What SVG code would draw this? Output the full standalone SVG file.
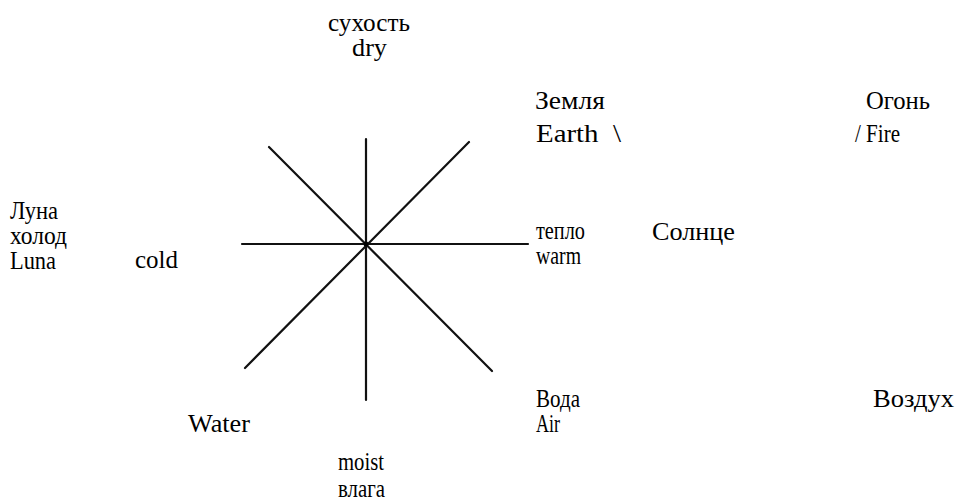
<svg xmlns="http://www.w3.org/2000/svg" width="955" height="502" viewBox="0 0 955 502">
<style>
text{font-family:'Liberation Serif','Times New Roman',serif;font-size:25px;fill:#000}
.s20{font-size:20px}
.ln{stroke:#111;stroke-width:2.2;fill:none;stroke-linecap:round}
</style>
<rect width="955" height="502" fill="#fff"/>
<g id="connectors">
<line class="ln" x1="366" y1="139" x2="366" y2="400"/>
<line class="ln" x1="242" y1="244" x2="528" y2="244"/>
<line class="ln" x1="269" y1="147" x2="492" y2="371"/>
<line class="ln" x1="469" y1="142" x2="245" y2="368"/>
<circle cx="366" cy="244" r="2.5" fill="#000"/>
</g>
<g id="dry"><text x="328" y="31" textLength="82" lengthAdjust="spacingAndGlyphs">сухость</text><text x="352" y="56" textLength="35" lengthAdjust="spacingAndGlyphs">dry</text></g>
<g id="earth"><text x="535" y="109" textLength="70" lengthAdjust="spacingAndGlyphs">Земля</text><text x="536" y="142" xml:space="preserve" textLength="85" lengthAdjust="spacingAndGlyphs">Earth  \</text></g>
<g id="fire"><text x="866" y="109" textLength="64" lengthAdjust="spacingAndGlyphs">Огонь</text><text x="855" y="142" textLength="45" lengthAdjust="spacingAndGlyphs">/ Fire</text></g>
<g id="luna" class="s20"><text x="10" y="219" textLength="48" lengthAdjust="spacingAndGlyphs">Луна</text><text x="10" y="244" textLength="57" lengthAdjust="spacingAndGlyphs">холод</text><text x="10" y="269" textLength="46" lengthAdjust="spacingAndGlyphs">Luna</text></g>
<g id="cold"><text x="135" y="268" textLength="43" lengthAdjust="spacingAndGlyphs">cold</text></g>
<g id="warm" class="s20"><text x="536" y="239" textLength="49" lengthAdjust="spacingAndGlyphs">тепло</text><text x="536" y="264" textLength="45" lengthAdjust="spacingAndGlyphs">warm</text></g>
<g id="sun"><text x="652" y="240" textLength="83" lengthAdjust="spacingAndGlyphs">Солнце</text></g>
<g id="voda"><text x="536" y="407" textLength="44" lengthAdjust="spacingAndGlyphs">Вода</text></g>
<g id="vozduh"><text x="873" y="407" textLength="81" lengthAdjust="spacingAndGlyphs">Воздух</text></g>
<g id="water"><text x="188" y="432" textLength="62" lengthAdjust="spacingAndGlyphs">Water</text></g>
<g id="air"><text x="536" y="432" textLength="24" lengthAdjust="spacingAndGlyphs">Air</text></g>
<g id="moist"><text x="338" y="470" textLength="46" lengthAdjust="spacingAndGlyphs">moist</text><text x="338" y="497" textLength="47" lengthAdjust="spacingAndGlyphs">влага</text></g>
</svg>
